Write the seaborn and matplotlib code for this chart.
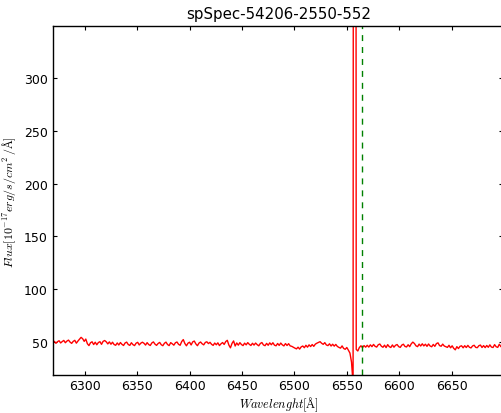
import numpy as np
import pandas as pd
import matplotlib
matplotlib.use("Agg")
import matplotlib.pyplot as plt
import seaborn as sns

# ---- data -------------------------------------------------------------
title = "spSpec-54206-2550-552"
wl_start = 6269.5          # first sample wavelength [A]
wl_step = 1.5              # sample spacing [A]
flux = [
    49.2, 50.6, 48.8, 50.3, 51.2, 49.1, 50.4, 51.5, 49.3, 50.9,
    51.8, 49.9, 48.7, 50.6, 51.6, 48.9, 50.9, 52.6, 54.4, 53.1,
    50.6, 52.8, 48.4, 46.6, 49.3, 50.2, 47.6, 49.8, 47.4, 49.5,
    50.3, 47.8, 50.6, 51.4, 50.2, 48.2, 50.1, 47.9, 49.8, 47.6,
    46.9, 49.1, 47.2, 49.5, 47.8, 46.7, 49.1, 49.9, 47.6, 46.8,
    49.3, 47.5, 46.6, 48.9, 49.7, 47.2, 48.9, 49.8, 48.8, 47.1,
    49.4, 47.6, 46.7, 49.1, 50.1, 48.0, 46.8, 48.6, 49.6, 47.4,
    46.5, 48.8, 49.9, 47.6, 46.6, 49.4, 48.3, 47.0, 49.3, 50.0,
    47.8, 46.9, 50.4, 52.3, 48.6, 46.4, 48.9, 49.8, 47.2, 50.1,
    50.9, 48.2, 46.5, 49.0, 50.0, 48.3, 47.3, 49.6, 50.2, 48.5,
    49.7, 47.8, 46.8, 49.0, 47.4, 49.2, 46.6, 48.3, 49.5, 47.7,
    50.4, 51.6, 47.1, 44.5, 48.7, 51.0, 46.2, 49.1, 47.0, 49.4,
    47.6, 46.6, 48.9, 47.3, 49.4, 47.8, 46.7, 48.8, 47.1, 49.0,
    47.5, 46.4, 48.6, 49.5, 47.2, 46.5, 48.7, 46.9, 49.2, 47.4,
    49.3, 47.0, 46.4, 48.6, 46.8, 49.0, 47.3, 46.3, 48.5, 46.7,
    48.4, 46.3, 45.9, 45.0, 44.2, 43.5, 45.1, 43.3, 45.4, 46.2,
    44.6, 46.9, 45.1, 47.3, 45.7, 47.6, 45.9, 48.0, 48.9, 49.6,
    50.3, 48.8, 47.8, 49.4, 47.2, 46.6, 48.3, 46.2, 47.9, 46.1,
    47.7, 45.8, 44.9, 44.2, 46.3, 43.9, 43.1, 44.8, 42.3, 39.5,
    31.0, 10.0, 3000.0,
    43.0, 41.5, 44.8, 46.4, 44.7, 46.6, 45.1,
    46.9, 45.2, 47.3, 45.6, 47.7, 45.9, 45.2, 47.4, 48.1, 46.0,
    45.0, 47.0, 44.7, 47.5, 45.6, 44.8, 47.2, 45.1, 46.9, 47.6,
    45.6, 44.9, 47.1, 47.9, 45.8, 45.3, 47.4, 45.6, 48.3, 49.9,
    48.6, 46.4, 45.6, 48.0, 46.2, 48.3, 46.3, 47.9, 45.9, 48.1,
    46.2, 45.5, 47.7, 45.9, 48.5, 49.2, 46.6, 46.0, 48.0, 46.2,
    45.6, 44.9, 46.9, 44.5, 46.4, 44.0, 42.6, 45.6, 43.8, 45.9,
    46.4, 44.5, 46.5, 44.8, 46.8, 45.0, 44.4, 46.3, 46.9, 44.9,
    44.6, 46.5, 47.1, 44.8, 46.6, 44.7, 46.7, 45.0, 47.3, 45.2,
    44.8, 47.5, 45.5, 44.9, 47.9, 45.6, 45.1, 47.0, 45.3, 46.9,
]
halpha_wl = 6564.61        # H-alpha (vacuum) marker
x_ticks = [6300, 6350, 6400, 6450, 6500, 6550, 6600, 6650]
y_ticks = [50, 100, 150, 200, 250, 300]
x_limits = (6270, 6699.5)
y_limits = (18.75, 349.0)

wavelength = wl_start + wl_step * np.arange(len(flux))
df = pd.DataFrame({"wavelength": wavelength, "flux": flux})

# ---- style ------------------------------------------------------------
sns.set_theme(style="white")
plt.rcParams["font.family"] = ["DejaVu Sans"]
plt.rcParams["mathtext.fontset"] = "cm"
plt.rcParams["text.color"] = "black"
plt.rcParams["axes.labelcolor"] = "black"
plt.rcParams["xtick.color"] = "black"
plt.rcParams["ytick.color"] = "black"
plt.rcParams["xtick.direction"] = "in"
plt.rcParams["ytick.direction"] = "in"

fig = plt.figure(figsize=(5.02, 4.14), dpi=100)
ax = fig.add_axes([53.3 / 502, 38 / 414, (503.5 - 53.3) / 502, (376 - 27.3) / 414])

sns.lineplot(data=df, x="wavelength", y="flux", ax=ax, color="red",
             linewidth=1.0, estimator=None, sort=False)
ax.axvline(halpha_wl, color="green", linewidth=1.0, linestyle=(0, (4.3, 4.3)))

ax.set_xlim(*x_limits)
ax.set_ylim(*y_limits)
ax.set_xticks(x_ticks)
ax.set_yticks(y_ticks)
ax.tick_params(axis="both", which="major", direction="in", length=3.2,
               width=0.8, colors="black", labelsize=9, pad=4,
               top=True, right=True, bottom=True, left=True)
ax.tick_params(axis="x", pad=3.2)
for s in ax.spines.values():
    s.set_color("black")
    s.set_linewidth(1.0)

ax.set_xlabel(r"$Wavelenght[$Å$]$", fontsize=8.8, labelpad=1.5,
              color="black", family="Liberation Serif")
ax.set_ylabel(r"$Flux[10^{-17}erg/s/cm^2\,/$Å$]$", fontsize=8.6, labelpad=4,
              color="black", family="Liberation Serif")
ax.set_title(title, fontsize=10.8, pad=6, color="black")

fig.savefig("out.png", dpi=100)
